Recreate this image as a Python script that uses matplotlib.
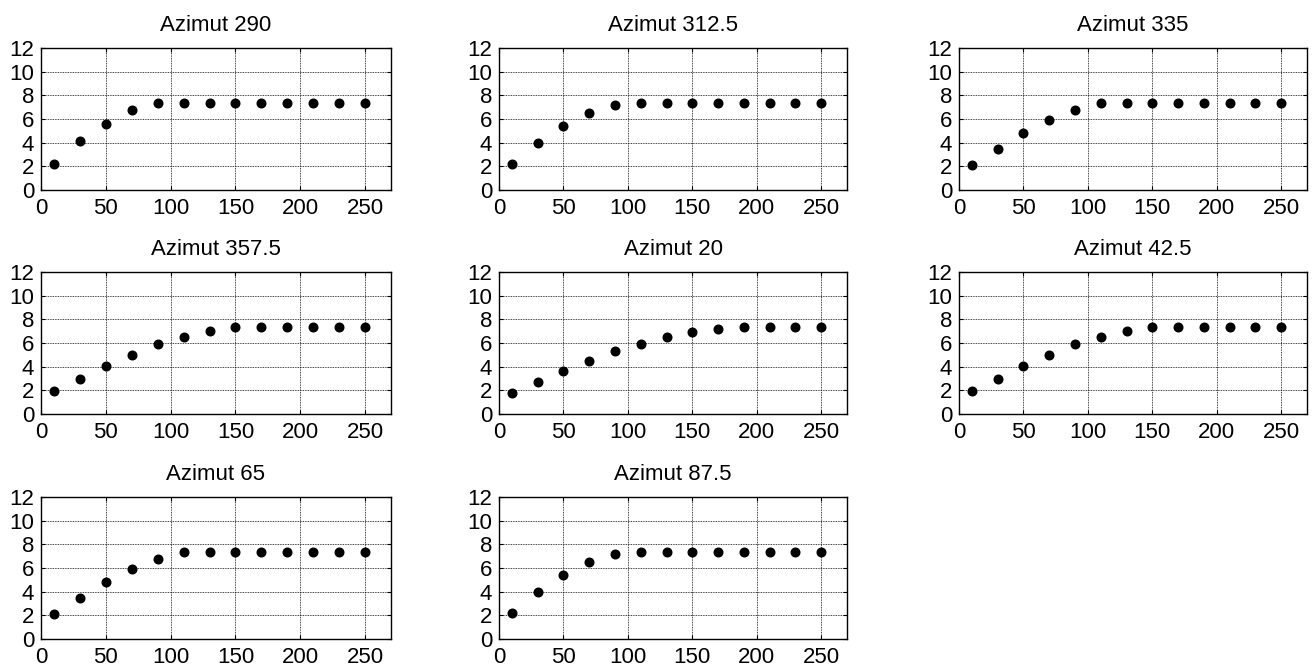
import matplotlib
matplotlib.use("Agg")
import matplotlib.pyplot as plt

plt.rcParams['font.family'] = ['Liberation Sans', 'DejaVu Sans']

lags = [10, 30, 50, 70, 90, 110, 130, 150, 170, 190, 210, 230, 250]
titles = ["Azimut 290", "Azimut 312.5", "Azimut 335", "Azimut 357.5",
          "Azimut 20", "Azimut 42.5", "Azimut 65", "Azimut 87.5"]

az290 = [2.2, 4.1, 5.6, 6.8, 7.35, 7.35, 7.35, 7.35, 7.35, 7.35, 7.35, 7.35, 7.35]
az312 = [2.2, 3.95, 5.45, 6.5, 7.2, 7.35, 7.35, 7.35, 7.35, 7.35, 7.35, 7.35, 7.35]
az335 = [2.1, 3.5, 4.85, 5.9, 6.8, 7.35, 7.35, 7.35, 7.35, 7.35, 7.35, 7.35, 7.35]
az357 = [1.95, 3.0, 4.05, 4.95, 5.9, 6.5, 7.05, 7.35, 7.35, 7.35, 7.35, 7.35, 7.35]
az20 = [1.8, 2.7, 3.6, 4.5, 5.3, 5.9, 6.5, 6.9, 7.2, 7.35, 7.35, 7.35, 7.35]
az42 = [1.95, 3.0, 4.05, 4.95, 5.9, 6.5, 7.05, 7.35, 7.35, 7.35, 7.35, 7.35, 7.35]
az65 = [2.1, 3.5, 4.85, 5.9, 6.8, 7.35, 7.35, 7.35, 7.35, 7.35, 7.35, 7.35, 7.35]
az87 = [2.2, 3.95, 5.45, 6.5, 7.2, 7.35, 7.35, 7.35, 7.35, 7.35, 7.35, 7.35, 7.35]
series = [az290, az312, az335, az357, az20, az42, az65, az87]

xticks = [0, 50, 100, 150, 200, 250]
yticks = [0, 2, 4, 6, 8, 10, 12]

W, H = 1314, 669
fig = plt.figure(figsize=(W / 100, H / 100), dpi=100)

col_lr = [(41, 391), (499, 847), (959, 1307)]
row_tb = [(48, 190), (272, 414), (497, 639)]

for i, (t, vals) in enumerate(zip(titles, series)):
    r, c = divmod(i, 3)
    l, rr = col_lr[c]
    tp, bt = row_tb[r]
    ax = fig.add_axes([l / W, 1 - bt / H, (rr - l) / W, (bt - tp) / H])
    ax.plot(lags, vals, 'o', color='black', ms=6.2, zorder=3)
    ax.set_xlim(0, 270)
    ax.set_ylim(0, 12)
    ax.set_xticks(xticks)
    ax.set_yticks(yticks)
    ax.grid(True, color='black', linestyle=(0, (1, 1)), linewidth=0.6)
    ax.tick_params(direction='in', length=3, labelsize=16, top=True, right=True)
    ax.tick_params(axis='y', pad=5)
    ax.tick_params(axis='x', pad=6)
    for s in ax.spines.values():
        s.set_linewidth(1.0)
    ax.set_title(t, fontsize=16, pad=12)

fig.savefig("out.png", dpi=100)
